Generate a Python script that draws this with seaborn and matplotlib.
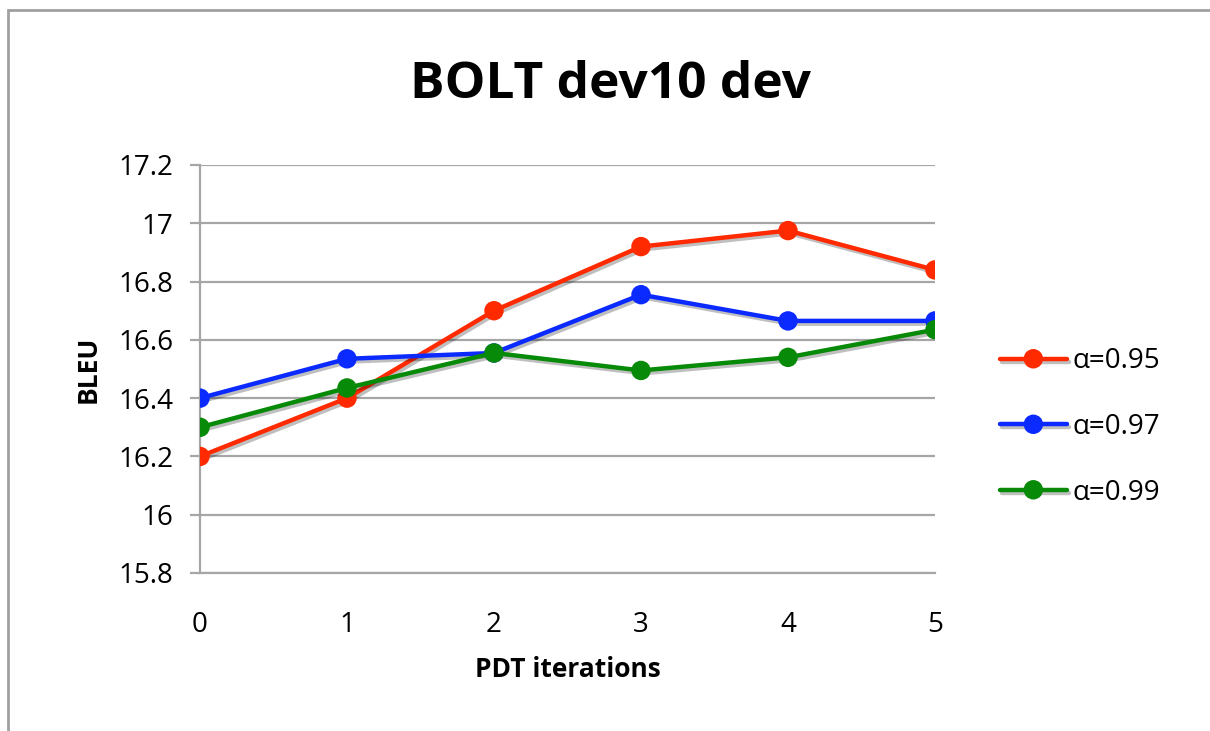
import pandas as pd
import matplotlib.pyplot as plt
import matplotlib.patheffects as pe
from matplotlib.patches import Rectangle
import seaborn as sns

# Datos
ITERACIONES = [0, 1, 2, 3, 4, 5]
BLEU_095 = [16.20, 16.40, 16.70, 16.92, 16.975, 16.84]
BLEU_097 = [16.40, 16.535, 16.555, 16.755, 16.665, 16.665]
BLEU_099 = [16.30, 16.435, 16.555, 16.495, 16.54, 16.635]
SERIES = ['α=0.95', 'α=0.97', 'α=0.99']
COLORES = ['#ff2a00', '#0a2aff', '#078a07']
Y_TICKS = [15.8, 16.0, 16.2, 16.4, 16.6, 16.8, 17.0, 17.2]
Y_LABELS = ['15.8', '16', '16.2', '16.4', '16.6', '16.8', '17', '17.2']

df = pd.DataFrame({
    'iter': ITERACIONES * 3,
    'bleu': BLEU_095 + BLEU_097 + BLEU_099,
    'serie': [SERIES[0]] * 6 + [SERIES[1]] * 6 + [SERIES[2]] * 6,
})

sns.set_style('white')
plt.rcParams['font.family'] = ['Open Sans', 'DejaVu Sans']
plt.rcParams['text.color'] = 'black'
plt.rcParams['axes.labelcolor'] = 'black'
plt.rcParams['xtick.color'] = 'black'
plt.rcParams['ytick.color'] = 'black'

fig = plt.figure(figsize=(12.1, 7.31), dpi=100)
ax = fig.add_axes([200 / 1210, 1 - 573 / 731, 735 / 1210, 408 / 731])

sns.lineplot(data=df, x='iter', y='bleu', hue='serie', palette=COLORES,
             marker='o', markersize=14, markeredgewidth=0, linewidth=3.2,
             ax=ax, zorder=3)
for line in ax.get_lines():
    line.set_path_effects([pe.SimpleLineShadow(offset=(1.5, -2), alpha=0.25), pe.Normal()])

ax.set_xlim(0, 5)
ax.set_ylim(15.8, 17.2)
ax.set_xticks(ITERACIONES)
ax.set_yticks(Y_TICKS)
ax.set_yticklabels(Y_LABELS)
ax.yaxis.grid(True, color='#a6a6a6', linewidth=1.6)
ax.xaxis.grid(False)
for s in ['top', 'right']:
    ax.spines[s].set_visible(False)
ax.spines['left'].set_color('#a6a6a6')
ax.spines['left'].set_linewidth(1.6)
ax.spines['bottom'].set_color('#a6a6a6')
ax.spines['bottom'].set_linewidth(1.6)
ax.tick_params(axis='y', left=True, length=7, width=1.6, color='#a6a6a6',
               labelcolor='black', pad=12, labelsize=20)
ax.tick_params(axis='x', bottom=False, pad=24, labelsize=20, labelcolor='black')

ax.set_xlabel('PDT iterations', fontsize=19, fontweight='bold', labelpad=12)
ax.set_ylabel('BLEU', fontsize=19, fontweight='bold', labelpad=12)

fig.text(611 / 1210, 1 - 85 / 731, 'BOLT dev10 dev', ha='center', va='center',
         fontsize=37, fontweight='bold')

leg = ax.legend(loc='center left', bbox_to_anchor=(1000 / 1210, 1 - 427 / 731),
                bbox_transform=fig.transFigure, frameon=False, fontsize=20,
                borderpad=0, borderaxespad=0, handlelength=2.4,
                handletextpad=0.2, labelspacing=1.35, title=None)

# Marco del gráfico
fig.add_artist(Rectangle((8 / 1210, -0.1), 1.2, 1.1 - 10 / 731, fill=False,
                         edgecolor='#a0a0a0', linewidth=2,
                         transform=fig.transFigure))

fig.savefig('out.png', dpi=100)
